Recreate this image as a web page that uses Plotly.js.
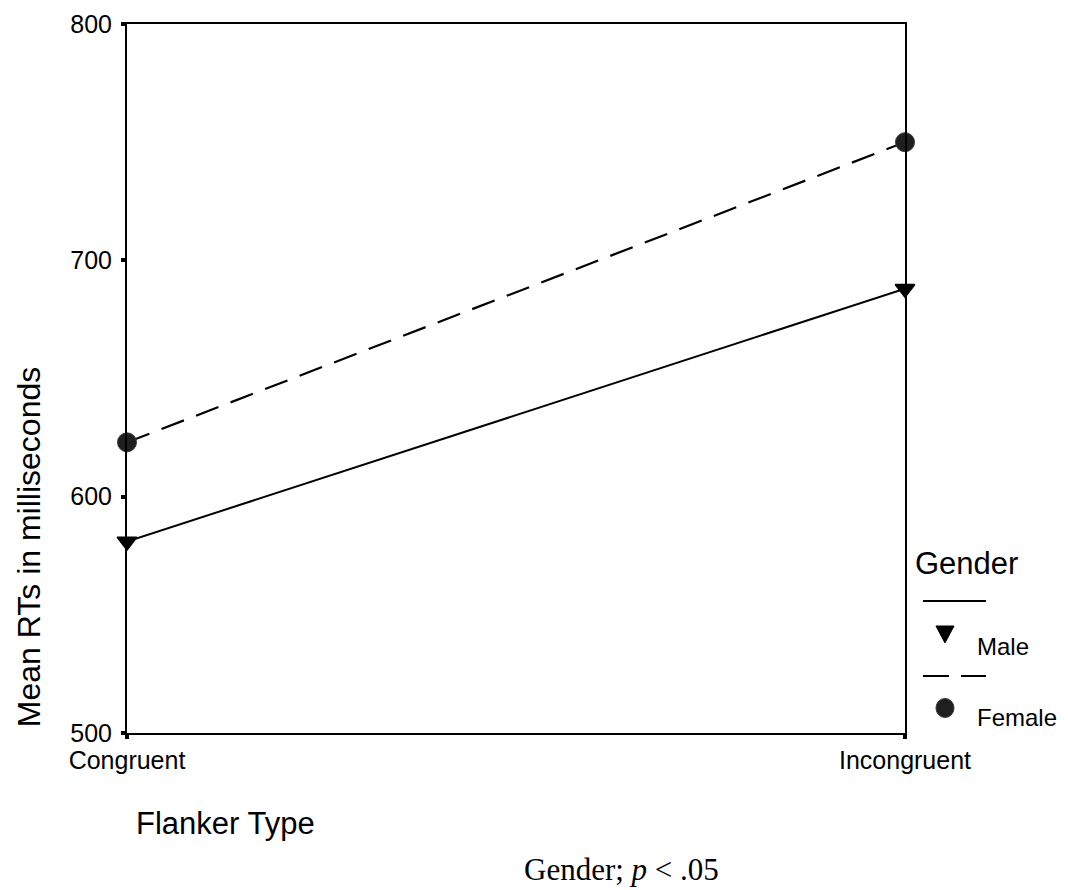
<!DOCTYPE html>
<html>
<head>
<meta charset="utf-8">
<script src="https://cdn.plot.ly/plotly-3.0.1.min.js"></script>
<style>
  html, body { margin: 0; padding: 0; background: #fff; }
  #chart { width: 1068px; height: 890px; }
</style>
</head>
<body>
<div id="chart"></div>
<script>
// Flanker conditions on the x axis
const flankerTypes = ["Congruent", "Incongruent"];
const flankerPos = [0, 1];

// Mean reaction times (ms) by gender
const maleRT = [581, 688];
const femaleRT = [623, 750];

// Y axis ticks
const rtTicks = [500, 600, 700, 800];

const sans = "Arial, 'Liberation Sans', sans-serif";
const serif = "'Times New Roman', 'Liberation Serif', serif";

const traces = [
  {
    x: flankerPos, y: maleRT, name: "Male",
    type: "scatter", mode: "lines+markers", cliponaxis: false,
    line: { color: "#000", width: 2 },
    marker: { symbol: "triangle-down", size: 17, color: "#000",
              line: { color: "#000", width: 1.5 } }
  },
  {
    x: flankerPos, y: femaleRT, name: "Female",
    type: "scatter", mode: "lines+markers", cliponaxis: false,
    line: { color: "#000", width: 2.2, dash: "24px,13px" },
    marker: { symbol: "circle", size: 19, color: "#1f1f1f",
              line: { color: "#3a3a3a", width: 1 } }
  }
];

// Legend key drawn in paper coordinates at the right of the plot
const legendX0 = 1.0231, legendX1 = 1.1041;
const shapes = [
  { type: "line", xref: "paper", yref: "paper", x0: legendX0, x1: legendX1, y0: 0.1862, y1: 0.1862,
    line: { color: "#000", width: 2 } },
  { type: "path", xref: "paper", yref: "paper",
    path: "M 1.0398 0.1509 L 1.0630 0.1509 L 1.0514 0.1270 Z",
    fillcolor: "#000", line: { color: "#000", width: 1 } },
  { type: "line", xref: "paper", yref: "paper", x0: legendX0, x1: legendX1, y0: 0.0804, y1: 0.0804,
    line: { color: "#000", width: 2, dash: "26px,12px" } },
  { type: "circle", xref: "paper", yref: "paper",
    x0: 1.0398, x1: 1.0630, y0: 0.0219, y1: 0.0487,
    fillcolor: "#1f1f1f", line: { color: "#3a3a3a", width: 1 } }
];

const layout = {
  width: 1068, height: 890,
  margin: { l: 127, r: 163, t: 24, b: 157 },
  paper_bgcolor: "#fff", plot_bgcolor: "#fff",
  showlegend: false,
  font: { family: sans, color: "#000", size: 24 },
  xaxis: {
    range: [0, 1], tickvals: flankerPos, ticktext: flankerTypes,
    showgrid: false, zeroline: false,
    showline: true, mirror: true, linecolor: "#000", linewidth: 2,
    ticks: "outside", ticklen: 4, tickwidth: 4, tickcolor: "#000",
    tickfont: { family: sans, size: 25, color: "#000" }
  },
  yaxis: {
    range: [500, 800], tickvals: rtTicks,
    showgrid: false, zeroline: false,
    showline: true, mirror: true, linecolor: "#000", linewidth: 2,
    ticks: "outside", ticklen: 4, tickwidth: 4, tickcolor: "#000",
    ticklabelstandoff: 4,
    tickfont: { family: sans, size: 25, color: "#000" }
  },
  shapes: shapes,
  annotations: [
    { text: "Mean RTs in milliseconds", xref: "paper", yref: "paper",
      x: -0.126, y: 0.262, xanchor: "center", yanchor: "middle", textangle: -90,
      showarrow: false, font: { family: sans, size: 32, color: "#000" } },
    { text: "Flanker Type", xref: "paper", yref: "paper",
      x: 0.126, y: -0.128, xanchor: "center", yanchor: "middle",
      showarrow: false, font: { family: sans, size: 31, color: "#000" } },
    { text: "Gender; <i>p</i> &lt; .05", xref: "paper", yref: "paper",
      x: 0.636, y: -0.192, xanchor: "center", yanchor: "middle",
      showarrow: false, font: { family: serif, size: 31, color: "#000" } },
    { text: "Gender", xref: "paper", yref: "paper",
      x: 1.010, y: 0.2384, xanchor: "left", yanchor: "middle",
      showarrow: false, font: { family: sans, size: 31, color: "#000" } },
    { text: "Male", xref: "paper", yref: "paper",
      x: 1.090, y: 0.1213, xanchor: "left", yanchor: "middle",
      showarrow: false, font: { family: sans, size: 24, color: "#000" } },
    { text: "Female", xref: "paper", yref: "paper",
      x: 1.090, y: 0.0212, xanchor: "left", yanchor: "middle",
      showarrow: false, font: { family: sans, size: 24, color: "#000" } }
  ]
};

Plotly.newPlot("chart", traces, layout, { staticPlot: true, displayModeBar: false });
</script>
</body>
</html>
